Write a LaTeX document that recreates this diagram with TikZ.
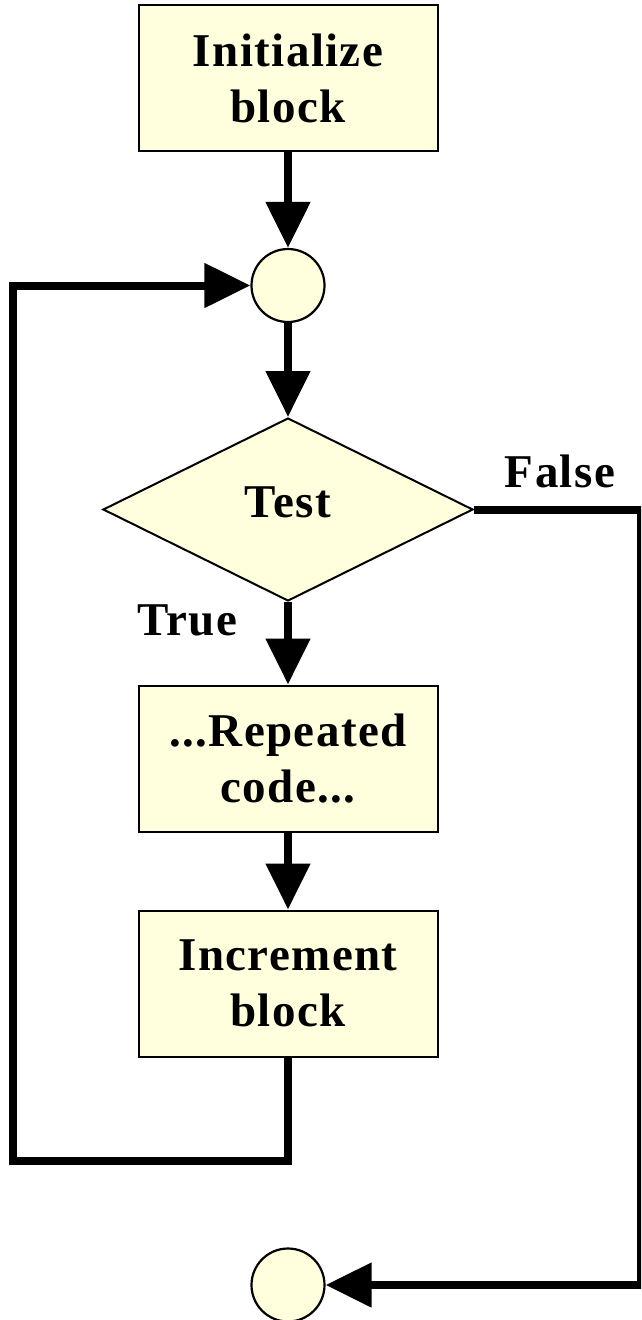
\documentclass[tikz,border=0pt]{standalone}
\usepackage{fontspec}
\setmainfont{Liberation Serif}[LetterSpace=3]
\usetikzlibrary{shapes.geometric,arrows.meta}
\definecolor{cream}{RGB}{255,255,221}
\tikzset{
  lbl/.style={font=\fontsize{47}{56}\selectfont\bfseries, inner sep=0pt},
  block/.style={lbl, draw=black, line width=2pt, fill=cream, align=center,
    minimum width=299pt, minimum height=146pt},
  junction/.style={circle, draw=black, line width=2.2pt, fill=cream,
    minimum size=73pt, inner sep=0pt},
  decision/.style={diamond, draw=black, line width=2pt, fill=cream,
    minimum width=370pt, minimum height=183pt, inner sep=0pt},
  flow/.style={line width=8pt, line join=miter,
    -{Triangle[length=46pt,width=43pt]}},
}
\begin{document}
\begin{tikzpicture}[x=1pt,y=-1pt]
\clip (0,0) rectangle (641,1320);
\fill[white] (0,0) rectangle (641,1320);

% blocks
\node[block] (init) at (288,78) {Initialize\\block};
\node[junction] (join) at (288,285.5) {};
\node[decision, label={[lbl,yshift=7pt]center:Test}] (test) at (288,509.5) {};
\node[block] (body) at (288,758.5) {...Repeated\\code...};
\node[block] (incr) at (288,983.5) {Increment\\block};
\node[junction] (done) at (288,1285) {};

% branch labels
\node[lbl, anchor=base] (flab) at (560,487) {False};
\node[lbl, anchor=base] (tlab) at (187,635) {True};

% straight-through flow
\draw[flow] (init.south) -- (join.north);
\draw[flow] (join.south) -- (test.north);
\draw[flow] (test.south) -- (body.north);
\draw[flow] (body.south) -- (incr.north);

% loop back to the junction
\coordinate (lb1) at (288,1161);
\coordinate (lb2) at (12.5,1161);
\coordinate (lb3) at (12.5,285.5);
\draw[flow] (incr.south) -- (lb1) -- (lb2) -- (lb3) -- (join.west);

% exit on false
\coordinate (ex1) at (641,509.5);
\coordinate (ex2) at (641,1285);
\draw[flow] (test.east) -- (ex1) -- (ex2) -- (done.east);
\end{tikzpicture}
\end{document}
